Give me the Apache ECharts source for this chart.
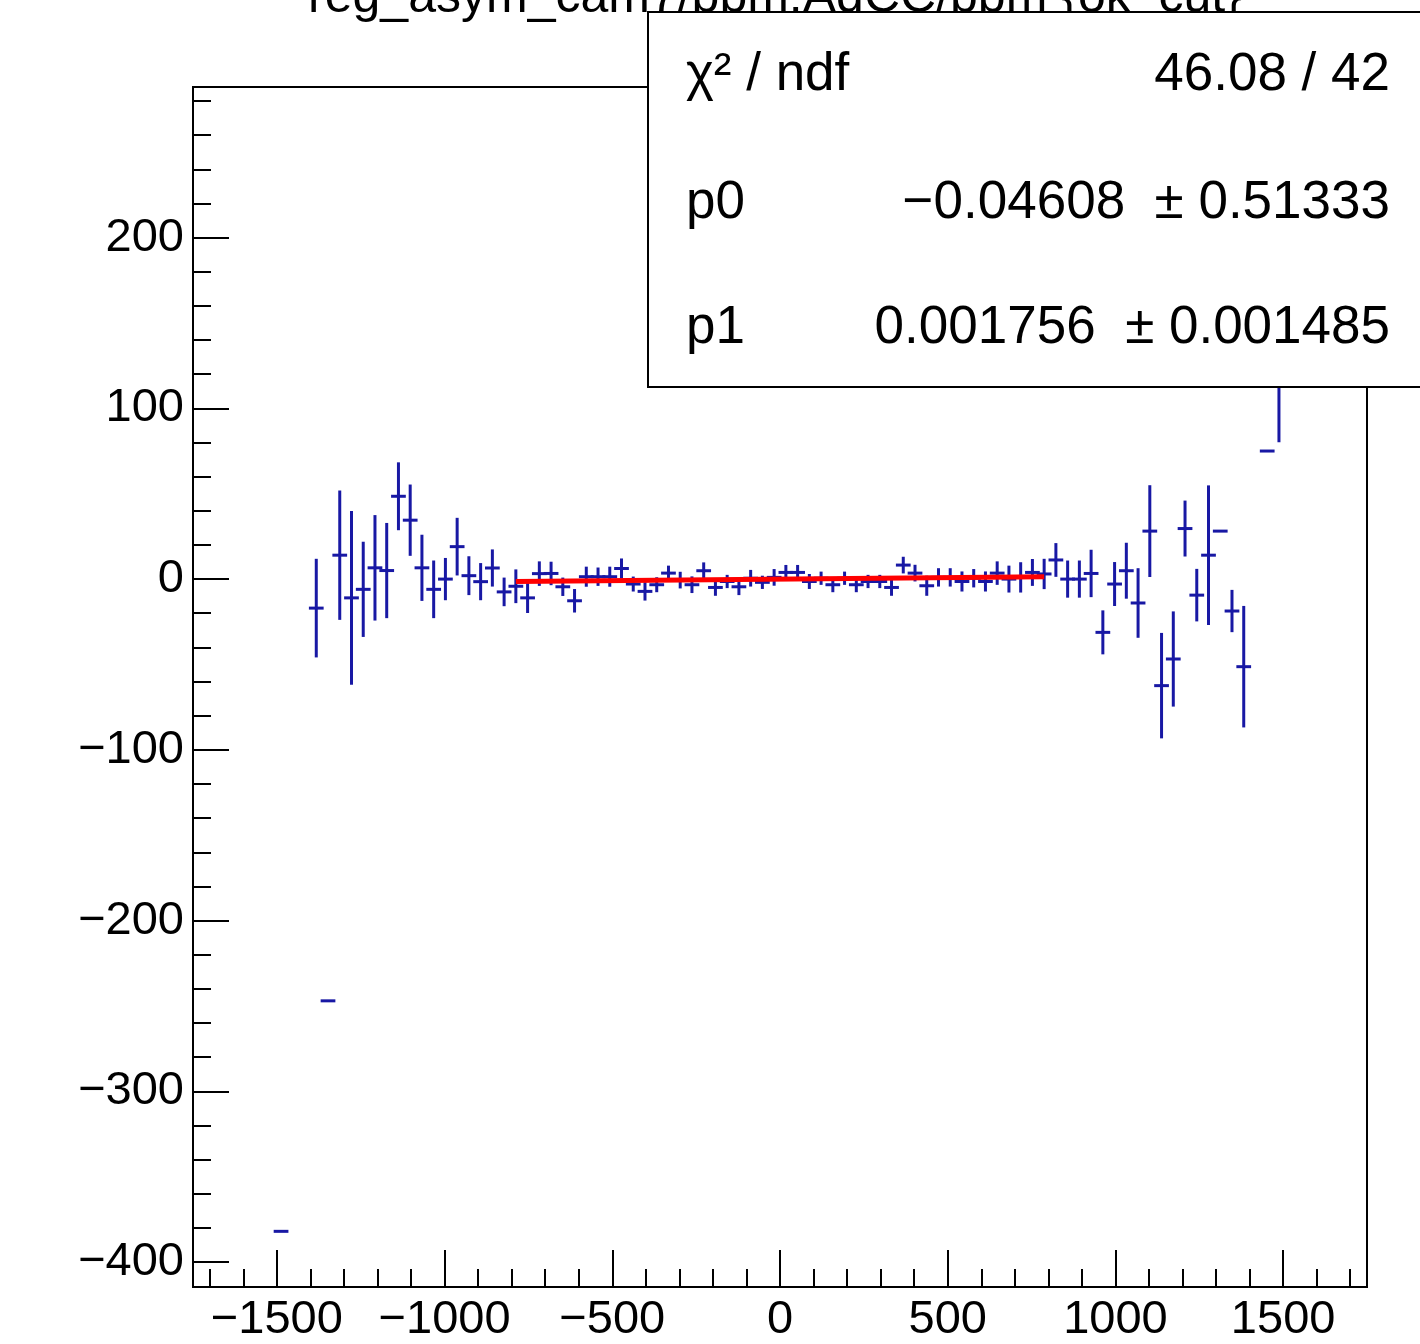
<!DOCTYPE html>
<html><head><meta charset="utf-8">
<script src="https://cdn.jsdelivr.net/npm/echarts@6/dist/echarts.min.js"></script>
<style>html,body{margin:0;padding:0;background:#fff}#c{width:1420px;height:1344px}</style>
</head><body><div id="c"></div>
<script>
// ---- data ----
const titleText = 'reg_asym_cam7/ppm:AqCC/ppm {ok_cut}';
const binWidth = 35;
const binCenters = [
  -1487.5, -1382.5, -1347.5, -1312.5, -1277.5, -1242.5, -1207.5, -1172.5, -1137.5, -1102.5,
  -1067.5, -1032.5, -997.5, -962.5, -927.5, -892.5, -857.5, -822.5, -787.5, -752.5,
  -717.5, -682.5, -647.5, -612.5, -577.5, -542.5, -507.5, -472.5, -437.5, -402.5,
  -367.5, -332.5, -297.5, -262.5, -227.5, -192.5, -157.5, -122.5, -87.5, -52.5,
  -17.5, 17.5, 52.5, 87.5, 122.5, 157.5, 192.5, 227.5, 262.5, 297.5,
  332.5, 367.5, 402.5, 437.5, 472.5, 507.5, 542.5, 577.5, 612.5, 647.5,
  682.5, 717.5, 752.5, 787.5, 822.5, 857.5, 892.5, 927.5, 962.5, 997.5,
  1032.5, 1067.5, 1102.5, 1137.5, 1172.5, 1207.5, 1242.5, 1277.5, 1312.5, 1347.5,
  1382.5, 1452.5, 1487.5
];
const binValues = [
  -382, -17, -247, 14, -11, -6, 6.6, 5, 48.5, 34.5,
  6.6, -6, 0, 19, 2, -1.5, 6.5, -7.5, -4.2, -11,
  3.2, 3.3, -4.5, -12.7, 1.4, 1.4, 1.4, 6.2, -2.9, -7.2,
  -3.3, 3.5, -0.6, -3.3, 4.9, -4.9, -1.4, -4.5, 0.5, -1.9,
  1, 3.9, 3.9, -1.4, 0.5, -3.3, 0.5, -3.3, -1.4, -1.4,
  -4.9, 8.2, 3.5, -3.9, 1, 1, -1.4, 0.5, -1.4, 3.5,
  0, 1, 3.9, 3, 11.2, 0, 0, 3.3, -31.2, -2.9,
  4.9, -14, 28.1, -62.4, -46.8, 29.6, -9.4, 14, 28.1, -18.7,
  -51.3, 75, 190
];
const binErrors = [
  0, 28, 0, 37, 50, 27, 30, 27, 19, 20,
  18.5, 16, 11.5, 16, 10.5, 10, 10, 7.5, 9, 8,
  6.3, 6, 4.5, 6, 5, 4.5, 5, 5, 3.5, 4.5,
  3.5, 3.5, 4, 4, 4, 4, 3, 4, 4, 3,
  4, 3.5, 3.5, 3.5, 3, 3.5, 3, 3.5, 3, 3,
  4, 4, 4, 5, 4.5, 4.5, 5, 4.5, 5, 6,
  7, 8, 7, 8, 9, 10, 10, 13, 12, 12,
  15.5, 19.5, 26, 30, 27, 15.5, 14.5, 40, 0, 11.5,
  34.7, 0, 109
];
const fitX = [-787.5, 787.5];
const fitY = [-1.429, 1.337];
const xMajorTicks = [-1500, -1000, -500, 0, 500, 1000, 1500];
const xMinorTicks = [-1700,-1600,-1400,-1300,-1200,-1100,-900,-800,-700,-600,-400,-300,-200,-100,
  100,200,300,400,600,700,800,900,1100,1200,1300,1400,1600,1700];
const yMajorTicks = [-400, -300, -200, -100, 0, 100, 200];
const yMinorTicks = [-380,-360,-340,-320,-280,-260,-240,-220,-180,-160,-140,-120,-80,-60,-40,-20,
  20,40,60,80,120,140,160,180,220,240,260,280];
const statsLabels = ['χ² / ndf', 'p0', 'p1'];
const statsValues = ['46.08 / 42', '−0.04608  ± 0.51333', '0.001756  ± 0.001485'];

// ---- chart ----
const FONT = 'Liberation Sans, Arial, Helvetica, sans-serif';
const BLUE = '#1818a4';
const fmt = v => (v < 0 ? '\u2212' + Math.abs(v) : String(v));
const pts = binCenters.map((x, i) => [x, binValues[i], binErrors[i]]);

function renderItem(params, api) {
  const x = api.value(0), y = api.value(1), e = api.value(2);
  const c = api.coord([x, y]);
  const l = api.coord([x - binWidth / 2, y]);
  const r = api.coord([x + binWidth / 2, y]);
  const style = { stroke: BLUE, lineWidth: 3, fill: null, lineCap: 'square' };
  const children = [{ type: 'line', shape: { x1: l[0], y1: c[1], x2: r[0], y2: c[1] }, style }];
  if (e > 0) {
    const t = api.coord([x, y + e]);
    const b = api.coord([x, y - e]);
    children.push({ type: 'line', shape: { x1: c[0], y1: t[1], x2: c[0], y2: b[1] }, style });
  }
  return { type: 'group', children };
}

const chart = echarts.init(document.getElementById('c'), null, { renderer: 'canvas' });
const rowY = [75, 203, 328];
const graphics = [
  { type: 'text', z: 100, style: { text: titleText, x: 775, y: 23, align: 'center', verticalAlign: 'bottom',
      font: '50px ' + FONT, fill: '#000' } },
  { type: 'rect', z: 100, shape: { x: 648, y: 12, width: 800, height: 375 },
    style: { fill: '#fff', stroke: '#000', lineWidth: 2 } }
];
statsLabels.forEach((s, i) => {
  graphics.push({ type: 'text', z: 101, style: { text: s, x: 686, y: rowY[i], align: 'left', verticalAlign: 'middle',
    font: '53px ' + FONT, fill: '#000' } });
  graphics.push({ type: 'text', z: 101, style: { text: statsValues[i], x: 1390, y: rowY[i], align: 'right', verticalAlign: 'middle',
    font: '53px ' + FONT, fill: '#000' } });
});

const xBase = { type: 'value', min: -1750, max: 1750, position: 'bottom', gridIndex: 0,
  axisLine: { show: false, onZero: false }, splitLine: { show: false } };
const yBase = { type: 'value', min: -414.6, max: 288.2, position: 'left', gridIndex: 0,
  axisLine: { show: false, onZero: false }, splitLine: { show: false } };

chart.setOption({
  animation: false,
  backgroundColor: '#fff',
  grid: { left: 193, top: 87, width: 1174, height: 1203, show: true, borderColor: '#000', borderWidth: 2,
    backgroundColor: 'transparent' },
  xAxis: [
    Object.assign({}, xBase, {
      axisTick: { show: true, inside: true, length: 37, customValues: xMajorTicks, lineStyle: { color: '#000', width: 2 } },
      axisLabel: { show: true, customValues: xMajorTicks, formatter: fmt, fontSize: 47, fontFamily: FONT, color: '#000', margin: 10 }
    }),
    Object.assign({}, xBase, {
      axisTick: { show: true, inside: true, length: 18, customValues: xMinorTicks, lineStyle: { color: '#000', width: 2 } },
      axisLabel: { show: false }
    })
  ],
  yAxis: [
    Object.assign({}, yBase, {
      axisTick: { show: true, inside: true, length: 36, customValues: yMajorTicks, lineStyle: { color: '#000', width: 2 } },
      axisLabel: { show: true, customValues: yMajorTicks, formatter: fmt, fontSize: 47, fontFamily: FONT, color: '#000', margin: 9 }
    }),
    Object.assign({}, yBase, {
      axisTick: { show: true, inside: true, length: 18, customValues: yMinorTicks, lineStyle: { color: '#000', width: 2 } },
      axisLabel: { show: false }
    })
  ],
  graphic: graphics,
  series: [
    { type: 'custom', xAxisIndex: 0, yAxisIndex: 0, renderItem, data: pts, clip: true, z: 3 },
    { type: 'line', xAxisIndex: 0, yAxisIndex: 0, data: fitX.map((x, i) => [x, fitY[i]]), symbol: 'none',
      lineStyle: { color: '#ff0000', width: 5 }, z: 4, silent: true }
  ]
});
</script></body></html>
